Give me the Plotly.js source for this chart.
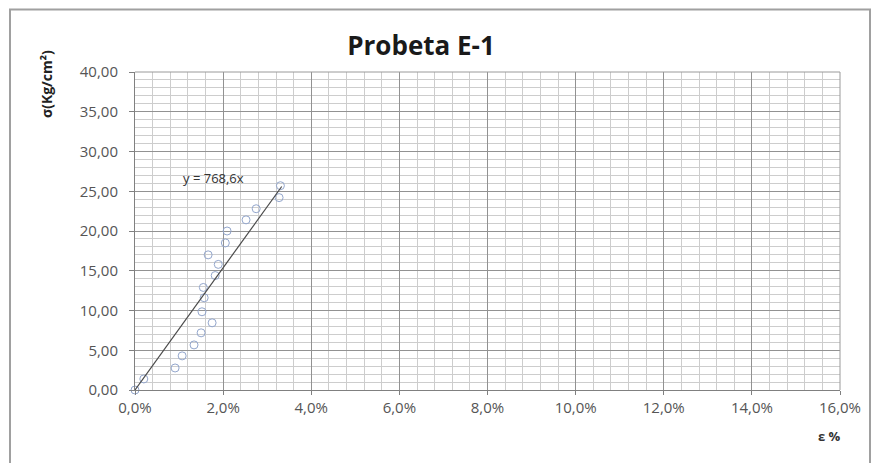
<!DOCTYPE html>
<html>
<head>
<meta charset="utf-8">
<script src="https://cdn.plot.ly/plotly-3.0.1.min.js"></script>
<style>html,body{margin:0;padding:0;background:#fff;}#chart{width:872px;height:463px;}</style>
</head>
<body>
<div id="chart"></div>
<script>
// Strain (fraction, shown as %) and stress (Kg/cm2)
const strain = [0.0000, 0.0020, 0.0091, 0.0107, 0.0134, 0.0150, 0.0175, 0.0152, 0.0157, 0.0155, 0.0182, 0.0189, 0.0166, 0.0205, 0.0209, 0.0252, 0.0275, 0.0327, 0.0330];
const stress = [0.00, 1.39, 2.77, 4.29, 5.67, 7.19, 8.45, 9.84, 11.60, 12.90, 14.40, 15.80, 17.00, 18.50, 20.00, 21.40, 22.80, 24.20, 25.70];
const slope = 768.6;
const trendX = [0, 0.0333];
const trendY = trendX.map(v => slope * v);
const xTicks = [0, 0.02, 0.04, 0.06, 0.08, 0.10, 0.12, 0.14, 0.16];
const yTicks = [0, 5, 10, 15, 20, 25, 30, 35, 40];

const font = "Open Sans, Liberation Sans, sans-serif";
const data = [
  {x: strain, y: stress, type: 'scatter', mode: 'markers', cliponaxis: false,
   marker: {symbol: 'circle-open', size: 8, color: '#93a6cc', line: {width: 1}},
   hoverinfo: 'skip', showlegend: false},
  {x: trendX, y: trendY, type: 'scatter', mode: 'lines',
   line: {color: '#4a4a4a', width: 1.2}, showlegend: false, hoverinfo: 'skip'}
];
const layout = {
  width: 872, height: 463,
  margin: {l: 135, r: 32, t: 72, b: 73},
  paper_bgcolor: '#fff', plot_bgcolor: '#fff',
  separators: ', ',
  font: {family: font, color: '#404040', size: 13},
  title: {text: '<b>Probeta E-1</b>', x: 421/872, xanchor: 'center', xref: 'container',
          y: 1 - 46/463, yanchor: 'middle', yref: 'container',
          font: {family: font, size: 26, color: '#1a1a1a'}},
  xaxis: {range: [0, 0.16], tickvals: xTicks, tickformat: '.1%',
          showgrid: true, gridcolor: '#929292', gridwidth: 1,
          minor: {dtick: 0.004, showgrid: true, gridcolor: '#cdcdcd', gridwidth: 1},
          showline: true, linecolor: '#808080', linewidth: 1,
          ticks: 'outside', ticklen: 4, tickcolor: '#808080',
          zeroline: false, tickfont: {size: 15, color: '#555'}, fixedrange: true},
  yaxis: {range: [0, 40], tickvals: yTicks, tickformat: '.2f',
          showgrid: true, gridcolor: '#929292', gridwidth: 1,
          minor: {dtick: 1, showgrid: true, gridcolor: '#cdcdcd', gridwidth: 1},
          showline: true, linecolor: '#808080', linewidth: 1,
          ticks: 'outside', ticklen: 5, tickcolor: '#808080', ticklabelstandoff: 8,
          zeroline: false, tickfont: {size: 15, color: '#555'}, fixedrange: true},
  shapes: [
    {type: 'line', xref: 'paper', yref: 'paper', x0: 1, x1: 1, y0: 0, y1: 1,
     line: {color: '#9a9a9a', width: 1}},
    {type: 'line', xref: 'paper', yref: 'paper', x0: 0, x1: 1, y0: 1, y1: 1,
     line: {color: '#9a9a9a', width: 1}},
    {type: 'rect', xref: 'paper', yref: 'paper',
     x0: (10 - 135) / 705, x1: (870 - 135) / 705, y0: (390 - 475) / 318, y1: (390 - 9.5) / 318,
     line: {color: '#a0a0a0', width: 2}, fillcolor: 'rgba(0,0,0,0)'}
  ],
  annotations: [
    {text: 'y = 768,6x', xref: 'paper', yref: 'paper', x: (213 - 135) / 705, y: (390 - 178) / 318,
     showarrow: false, font: {size: 13, color: '#333'}, xanchor: 'center', yanchor: 'middle'},
    {text: '<b>σ(Kg/cm²)</b>', xref: 'paper', yref: 'paper', x: (46 - 135) / 705, y: (390 - 84) / 318,
     showarrow: false, textangle: -90, font: {size: 14, color: '#222'}, xanchor: 'center', yanchor: 'middle'},
    {text: '<b>ε %</b>', xref: 'paper', yref: 'paper', x: (829 - 135) / 705, y: (390 - 436) / 318,
     showarrow: false, font: {size: 13, color: '#333'}, xanchor: 'center', yanchor: 'middle'}
  ]
};
Plotly.newPlot('chart', data, layout, {displayModeBar: false, staticPlot: true});
</script>
</body>
</html>
